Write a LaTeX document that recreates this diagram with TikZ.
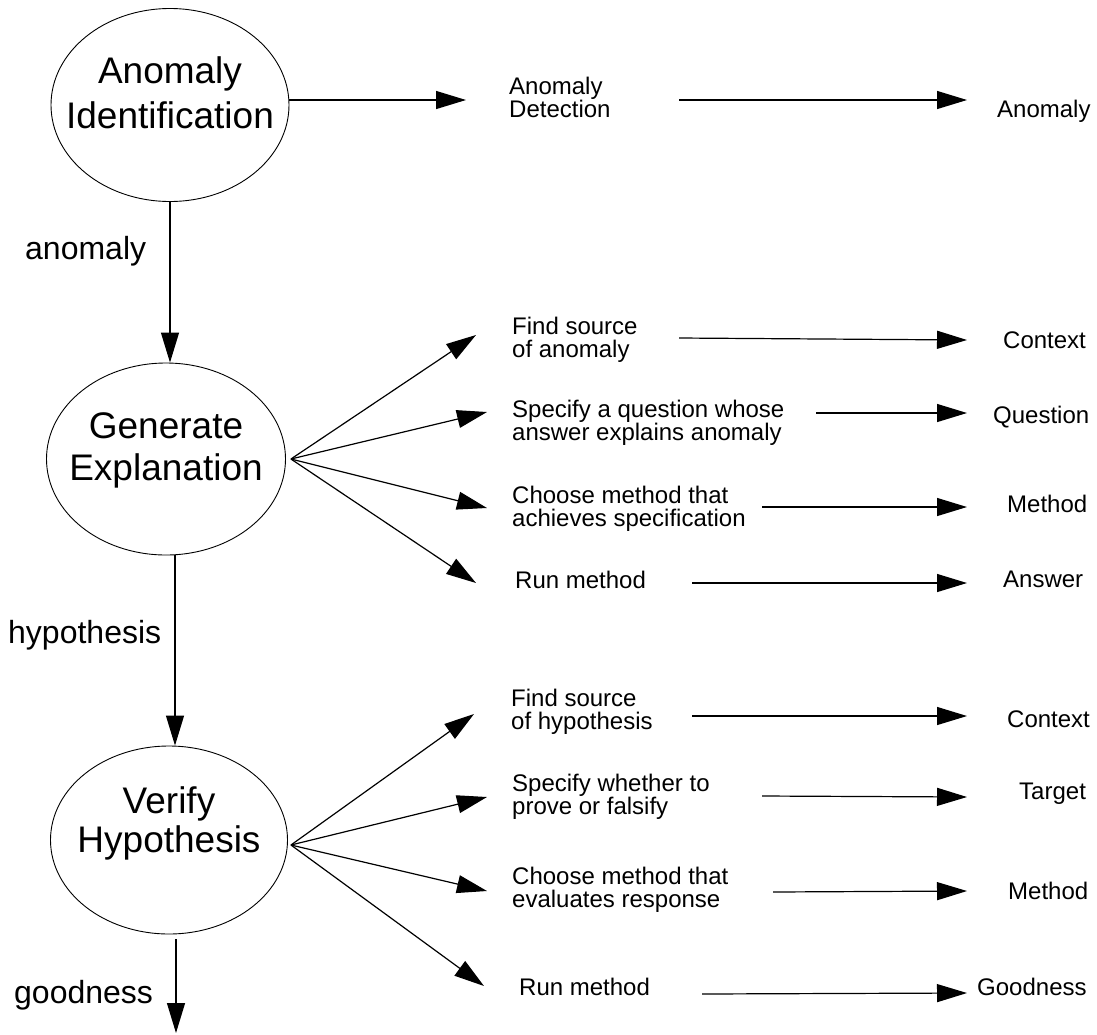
\documentclass[tikz,border=0pt]{standalone}
\usepackage{fontspec}
\setmainfont{Liberation Sans}
\usetikzlibrary{arrows.meta,shapes.geometric}

\begin{document}
\begin{tikzpicture}[x=1pt,y=-1pt,
  stage/.style={draw, ellipse, line width=0.9pt, inner sep=0pt},
  stagetext/.style={align=center, anchor=base, inner sep=0pt, font=\fontsize{37}{#1}\selectfont},
  flowlabel/.style={anchor=base west, inner sep=0pt, font=\fontsize{32}{38}\selectfont},
  task/.style={align=left, anchor=base west, inner sep=0pt, font=\fontsize{24}{23}\selectfont},
  result/.style={anchor=base west, inner sep=0pt, font=\fontsize{24}{23}\selectfont},
  link/.style={line width=1.2pt, -{Triangle[length=30pt,width=18pt]}},
]
\useasboundingbox (0,0) rectangle (1097,1034);

% the three stages (text nodes are placed by the baseline of their last line)
\node[stage, minimum width=238pt, minimum height=193pt] (ident) at (170,105) {};
\node[stage, minimum width=239pt, minimum height=192pt] (gen) at (166,459) {};
\node[stage, minimum width=237pt, minimum height=188pt] (ver) at (169,840) {};
\node[stagetext=45] (identtxt) at (170,128) {Anomaly\\Identification};
\node[stagetext=42] (gentxt) at (166,480) {Generate\\Explanation};
\node[stagetext=38.5] (vertxt) at (169,852) {Verify\\Hypothesis};

% what flows between the stages
\node[flowlabel] (lanom) at (25,259) {anomaly};
\node[flowlabel] (lhyp) at (8,643) {hypothesis};
\node[flowlabel] (lgood) at (14,1003) {goodness};

\draw[link] (ident.south) -- (ident.south |- gen.north);
\draw[link] ([xshift=9pt]gen.south) -- ([xshift=9pt]gen.south |- ver.north);
\coordinate (goodend) at (176,1033);
\draw[link, shorten <=5pt] (ver.south -| goodend) -- (goodend);

% anomaly identification
\node[task] (detect) at (509,117) {Anomaly\\Detection};
\node[result] (ranom) at (997,117) {Anomaly};
\coordinate (identtip) at (466,100);
\draw[link] (ident.east |- identtip) -- (identtip);
\coordinate (detA) at (679,100);
\coordinate (detB) at (967,100);
\draw[link] (detA) -- (detB);

% generate explanation: subtasks
\node[task] (g1) at (512,357) {Find source\\of anomaly};
\node[task] (g2) at (512,440) {Specify a question whose\\answer explains anomaly};
\node[task] (g3) at (512,526) {Choose method that\\achieves specification};
\node[task] (g4) at (515,588) {Run method};
\node[result] (gr1) at (1003,348) {Context};
\node[result] (gr2) at (993,423) {Question};
\node[result] (gr3) at (1007,512) {Method};
\node[result] (gr4) at (1003,587) {Answer};

\coordinate (gfan) at ([xshift=5pt]gen.east);
\coordinate (gt1) at (476,335);
\coordinate (gt2) at (487,412);
\coordinate (gt3) at (487,508);
\coordinate (gt4) at (476,583);
\foreach \t in {gt1,gt2,gt3,gt4} \draw[link] (gfan) -- (\t);

\coordinate (ga1) at (679,338); \coordinate (gb1) at (967,340);
\coordinate (ga2) at (816,413); \coordinate (gb2) at (967,413);
\coordinate (ga3) at (762,507); \coordinate (gb3) at (967,507);
\coordinate (ga4) at (692,583); \coordinate (gb4) at (967,583);
\foreach \i in {1,2,3,4} \draw[link] (ga\i) -- (gb\i);

% verify hypothesis: subtasks
\node[task] (v1) at (511,729) {Find source\\of hypothesis};
\node[task] (v2) at (512,814) {Specify whether to\\prove or falsify};
\node[task] (v3) at (512,907) {Choose method that\\evaluates response};
\node[task] (v4) at (519,995) {Run method};
\node[result] (vr1) at (1007,727) {Context};
\node[result] (vr2) at (1019,799) {Target};
\node[result] (vr3) at (1008,899) {Method};
\node[result] (vr4) at (977,995) {Goodness};

\coordinate (vfan) at ([xshift=3pt,yshift=-5pt]ver.east);
\coordinate (vt1) at (474,714);
\coordinate (vt2) at (487,797);
\coordinate (vt3) at (487,891);
\coordinate (vt4) at (484,986);
\foreach \t in {vt1,vt2,vt3,vt4} \draw[link] (vfan) -- (\t);

\coordinate (va1) at (692,716); \coordinate (vb1) at (967,716);
\coordinate (va2) at (762,796); \coordinate (vb2) at (967,797);
\coordinate (va3) at (773,892); \coordinate (vb3) at (967,891);
\coordinate (va4) at (702,994); \coordinate (vb4) at (967,993);
\foreach \i in {1,2,3,4} \draw[link] (va\i) -- (vb\i);
\end{tikzpicture}
\end{document}
